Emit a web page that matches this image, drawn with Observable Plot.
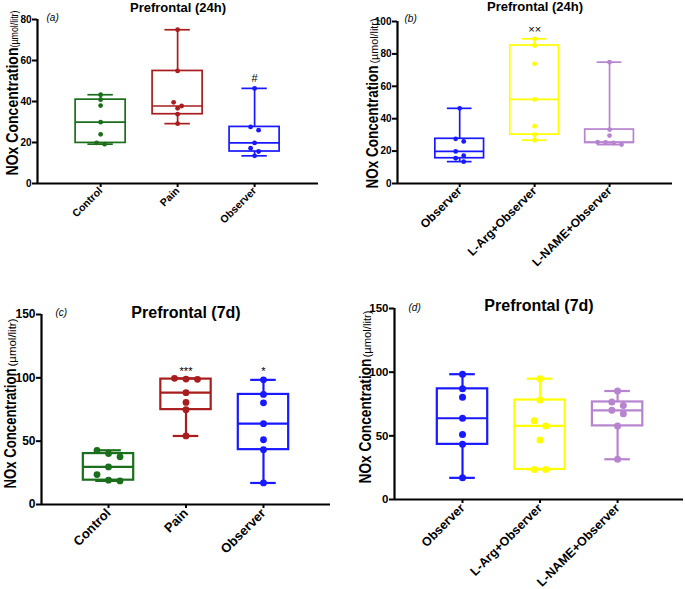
<!DOCTYPE html>
<html><head><meta charset="utf-8">
<script src="https://cdn.jsdelivr.net/npm/d3@7"></script>
<script src="https://cdn.jsdelivr.net/npm/@observablehq/plot@0.6"></script>
<style>
body{margin:0;background:#fff}
#fig{position:relative;width:685px;height:589px;overflow:hidden;background:#fff}
.panel{position:absolute}
</style></head><body><div id="fig"></div>
<script>
// ---------- data ----------
const groupsPain = ["Control", "Pain", "Observer"];
const groupsTreat = ["Observer", "L-Arg+Observer", "L-NAME+Observer"];

// Prefrontal (24h) NOx, µmol/litr
const control24 = [43.3, 40.9, 38.0, 29.9, 24.0, 19.8, 19.2];
const pain24 = [75.0, 54.9, 39.6, 37.8, 36.7, 33.8, 29.2];
const observer24 = [46.4, 27.6, 26.0, 19.8, 17.2, 15.6, 13.5];
const lArg24 = [89.3, 85.2, 73.9, 51.9, 35.4, 30.2, 26.7];
const lName24 = [74.9, 33.3, 29.6, 25.6, 25.3, 25.0, 24.0];

// Prefrontal (7d)
const control7 = [42.8, 40.2, 37.6, 29.7, 23.6, 19.2, 18.6];
const pain7 = [99.6, 99.0, 98.8, 88.3, 80.6, 74.9, 54.1];
const observer7 = [98.4, 86.9, 80.3, 63.8, 51.1, 43.3, 17.0];
const lArg7 = [94.9, 78.1, 61.8, 57.8, 46.8, 23.6, 23.6];
const lName7 = [85.2, 76.6, 73.9, 70.0, 67.4, 57.8, 31.6];

// significance marks
const sigA = {groups: ["Observer"], labels: ["#"], values: [51]};
const sigB = {groups: ["L-Arg+Observer"], labels: ["××"], values: [95]};
const sigC = {groups: ["Pain", "Observer"], labels: ["***", "*"], values: [105, 105]};

const ticks24a = [0, 20, 40, 60, 80];
const ticks24b = [0, 20, 40, 60, 80, 100];
const ticks7 = [0, 50, 100, 150];

const green = "#1b6e1b", red = "#a81d1d", blue = "#1919ff", yellow = "#ffff00", purple = "#b784cf";

// ---------- helpers ----------
const FONT = '"Liberation Sans", Arial, Helvetica, sans-serif';

function gq(s, p) { // GraphPad-style percentile (rank = p*(n+1))
  const n = s.length, h = p * (n + 1), lo = Math.floor(h);
  if (lo < 1) return s[0];
  if (lo >= n) return s[n - 1];
  return s[lo - 1] + (h - lo) * (s[lo] - s[lo - 1]);
}

function panel(spec) {
  const {cats, series, colors, yMax, yTicks, xDomain, width, height, ml, mr, mt, mb} = spec;
  const fw = width - ml - mr, fh = height - mt - mb;
  const kx = fw / (xDomain[1] - xDomain[0]);
  const ky = fh / yMax;
  const hw = 0.325, cw = 0.165;
  const boxes = cats.map((c, i) => {
    const s = series[i].slice().sort(d3.ascending);
    return {i, color: colors[i], min: s[0], max: s[s.length - 1], q1: gq(s, .25), med: gq(s, .5), q3: gq(s, .75)};
  });
  // beeswarm-like spreading of overlapping dots
  const dots = [];
  series.forEach((vals, i) => {
    const sorted = vals.slice().sort(d3.descending);
    const rows = [];
    for (const v of sorted) {
      const row = rows[rows.length - 1];
      if (row && (row[0] - v) * ky < 2 * spec.r) row.push(v); else rows.push([v]);
    }
    for (const row of rows) row.forEach((v, j) => {
      const off = (j - (row.length - 1) / 2) * spec.step;
      dots.push({x: i + off / kx, y: v, color: colors[i]});
    });
  });
  const sw = spec.sw;
  const marks = [
    Plot.ruleX(boxes, {x: "i", y1: "min", y2: "q1", stroke: "color", strokeWidth: sw}),
    Plot.ruleX(boxes, {x: "i", y1: "q3", y2: "max", stroke: "color", strokeWidth: sw}),
    Plot.ruleY(boxes, {y: "min", x1: d => d.i - cw, x2: d => d.i + cw, stroke: "color", strokeWidth: sw}),
    Plot.ruleY(boxes, {y: "max", x1: d => d.i - cw, x2: d => d.i + cw, stroke: "color", strokeWidth: sw}),
    Plot.rect(boxes, {x1: d => d.i - hw, x2: d => d.i + hw, y1: "q1", y2: "q3", fill: "none", stroke: "color", strokeWidth: sw}),
    Plot.ruleY(boxes, {y: "med", x1: d => d.i - hw, x2: d => d.i + hw, stroke: "color", strokeWidth: sw}),
    Plot.dot(dots, {x: "x", y: "y", r: spec.r, fill: "color", stroke: "none"}),
    Plot.ruleY([0], {stroke: "#000", strokeWidth: 2.2}),
    Plot.ruleX([xDomain[0]], {y1: 0, y2: yMax, stroke: "#000", strokeWidth: 2.2}),
    Plot.axisY({ticks: yTicks, tickSize: 5, tickPadding: 1, strokeWidth: 2, fontSize: spec.yFont, fontWeight: "bold", label: null}),
    Plot.axisX({ticks: [0, 1, 2], tickFormat: i => cats[i], tickRotate: -45, tickSize: 4, tickPadding: spec.xPad, strokeWidth: 2, fontSize: spec.xFont, fontWeight: "bold", label: null}),
    Plot.text([spec.title], {frameAnchor: "top", text: d => d, lineAnchor: "bottom", dy: spec.titleDy, fontSize: spec.titleFont, fontWeight: "bold"}),
    Plot.text([spec.letter], {frameAnchor: "top-left", text: d => d, textAnchor: "start", lineAnchor: "bottom", dx: spec.letterDx, dy: spec.letterDy, fontSize: 10, fontStyle: "italic", fontWeight: "normal"}),
    Plot.text(["NOx Concentration"], {frameAnchor: "bottom-left", text: d => d, rotate: -90, textAnchor: "start", lineAnchor: "bottom", dx: spec.labDx, dy: spec.labDy, fontSize: 16.5, fontWeight: "bold"}),
    Plot.text(["(µmol/litr)"], {frameAnchor: "top-left", text: d => d, rotate: -90, textAnchor: "end", lineAnchor: "bottom", dx: spec.labDx, dy: spec.unitDy, fontSize: 11.5, fontWeight: "normal"})
  ];
  if (spec.sig) {
    marks.push(Plot.text(spec.sig.labels, {x: (d, k) => cats.indexOf(spec.sig.groups[k]), y: (d, k) => spec.sig.values[k], text: d => d, fontSize: spec.sigFont, fontWeight: "normal"}));
  }
  const svg = Plot.plot({
    width, height, marginLeft: ml, marginRight: mr, marginTop: mt, marginBottom: mb,
    x: {domain: xDomain, axis: null},
    y: {domain: [0, yMax], axis: null},
    color: {type: "identity"},
    style: {fontFamily: FONT, color: "#000", background: "transparent", overflow: "visible"},
    marks
  });
  // condensed look of the y-axis title (as in the original figure)
  svg.querySelectorAll("text").forEach(t => {
    if (t.textContent === "NOx Concentration") { t.setAttribute("textLength", spec.labLen); t.setAttribute("lengthAdjust", "spacingAndGlyphs"); }
    if (t.textContent === "(µmol/litr)") { t.setAttribute("textLength", spec.unitLen); t.setAttribute("lengthAdjust", "spacingAndGlyphs"); }
  });
  const div = document.createElement("div");
  div.className = "panel";
  div.style.left = spec.left + "px";
  div.style.top = spec.top + "px";
  div.appendChild(svg);
  document.getElementById("fig").appendChild(div);
}

panel({left: 0, top: 0, width: 340, height: 260, ml: 37, mr: 22, mt: 19, mb: 77,
  cats: groupsPain, series: [control24, pain24, observer24], colors: [green, red, blue],
  yMax: 80, yTicks: ticks24a, xDomain: [-0.82, 2.83], r: 2.4, step: 8, sw: 1.7,
  yFont: 10, xFont: 10.5, xPad: 1.5, title: "Prefrontal (24h)", titleFont: 13, titleDy: -8,
  letter: "(a)", letterDx: 9, letterDy: 1, labDx: -20, labDy: -8, labLen: 128, unitDy: -9, unitLen: 37,
  sig: sigA, sigFont: 11});

panel({left: 340, top: 0, width: 345, height: 260, ml: 57, mr: 13, mt: 21, mb: 77,
  cats: groupsTreat, series: [observer24, lArg24, lName24], colors: [blue, yellow, purple],
  yMax: 100, yTicks: ticks24b, xDomain: [-0.83, 2.84], r: 2.4, step: 8, sw: 1.7,
  yFont: 10, xFont: 12, xPad: 1.5, title: "Prefrontal (24h)", titleFont: 13, titleDy: -11,
  letter: "(b)", letterDx: 7, letterDy: 0, labDx: -20, labDy: 5, labLen: 123, unitDy: -3, unitLen: 45,
  sig: sigB, sigFont: 11});

panel({left: 0, top: 290, width: 340, height: 299, ml: 41, mr: 10, mt: 24, mb: 85,
  cats: groupsPain, series: [control7, pain7, observer7], colors: [green, red, blue],
  yMax: 150, yTicks: ticks7, xDomain: [-0.865, 2.865], r: 3.4, step: 11.5, sw: 2.2,
  yFont: 12, xFont: 13, xPad: 2.5, title: "Prefrontal (7d)", titleFont: 16, titleDy: 3,
  letter: "(c)", letterDx: 14, letterDy: 1, labDx: -26, labDy: -16, labLen: 120, unitDy: 4, unitLen: 48,
  sig: sigC, sigFont: 11});

panel({left: 340, top: 290, width: 345, height: 299, ml: 54, mr: 2, mt: 18, mb: 90,
  cats: groupsTreat, series: [observer7, lArg7, lName7], colors: [blue, yellow, purple],
  yMax: 150, yTicks: ticks7, xDomain: [-0.877, 2.85], r: 3.5, step: 11.5, sw: 2.2,
  yFont: 11.5, xFont: 12.5, xPad: 2.5, title: "Prefrontal (7d)", titleFont: 16, titleDy: 2,
  letter: "(d)", letterDx: 14, letterDy: 2, labDx: -24, labDy: -16, labLen: 125, unitDy: 2, unitLen: 47,
  sig: null});
</script></body></html>
